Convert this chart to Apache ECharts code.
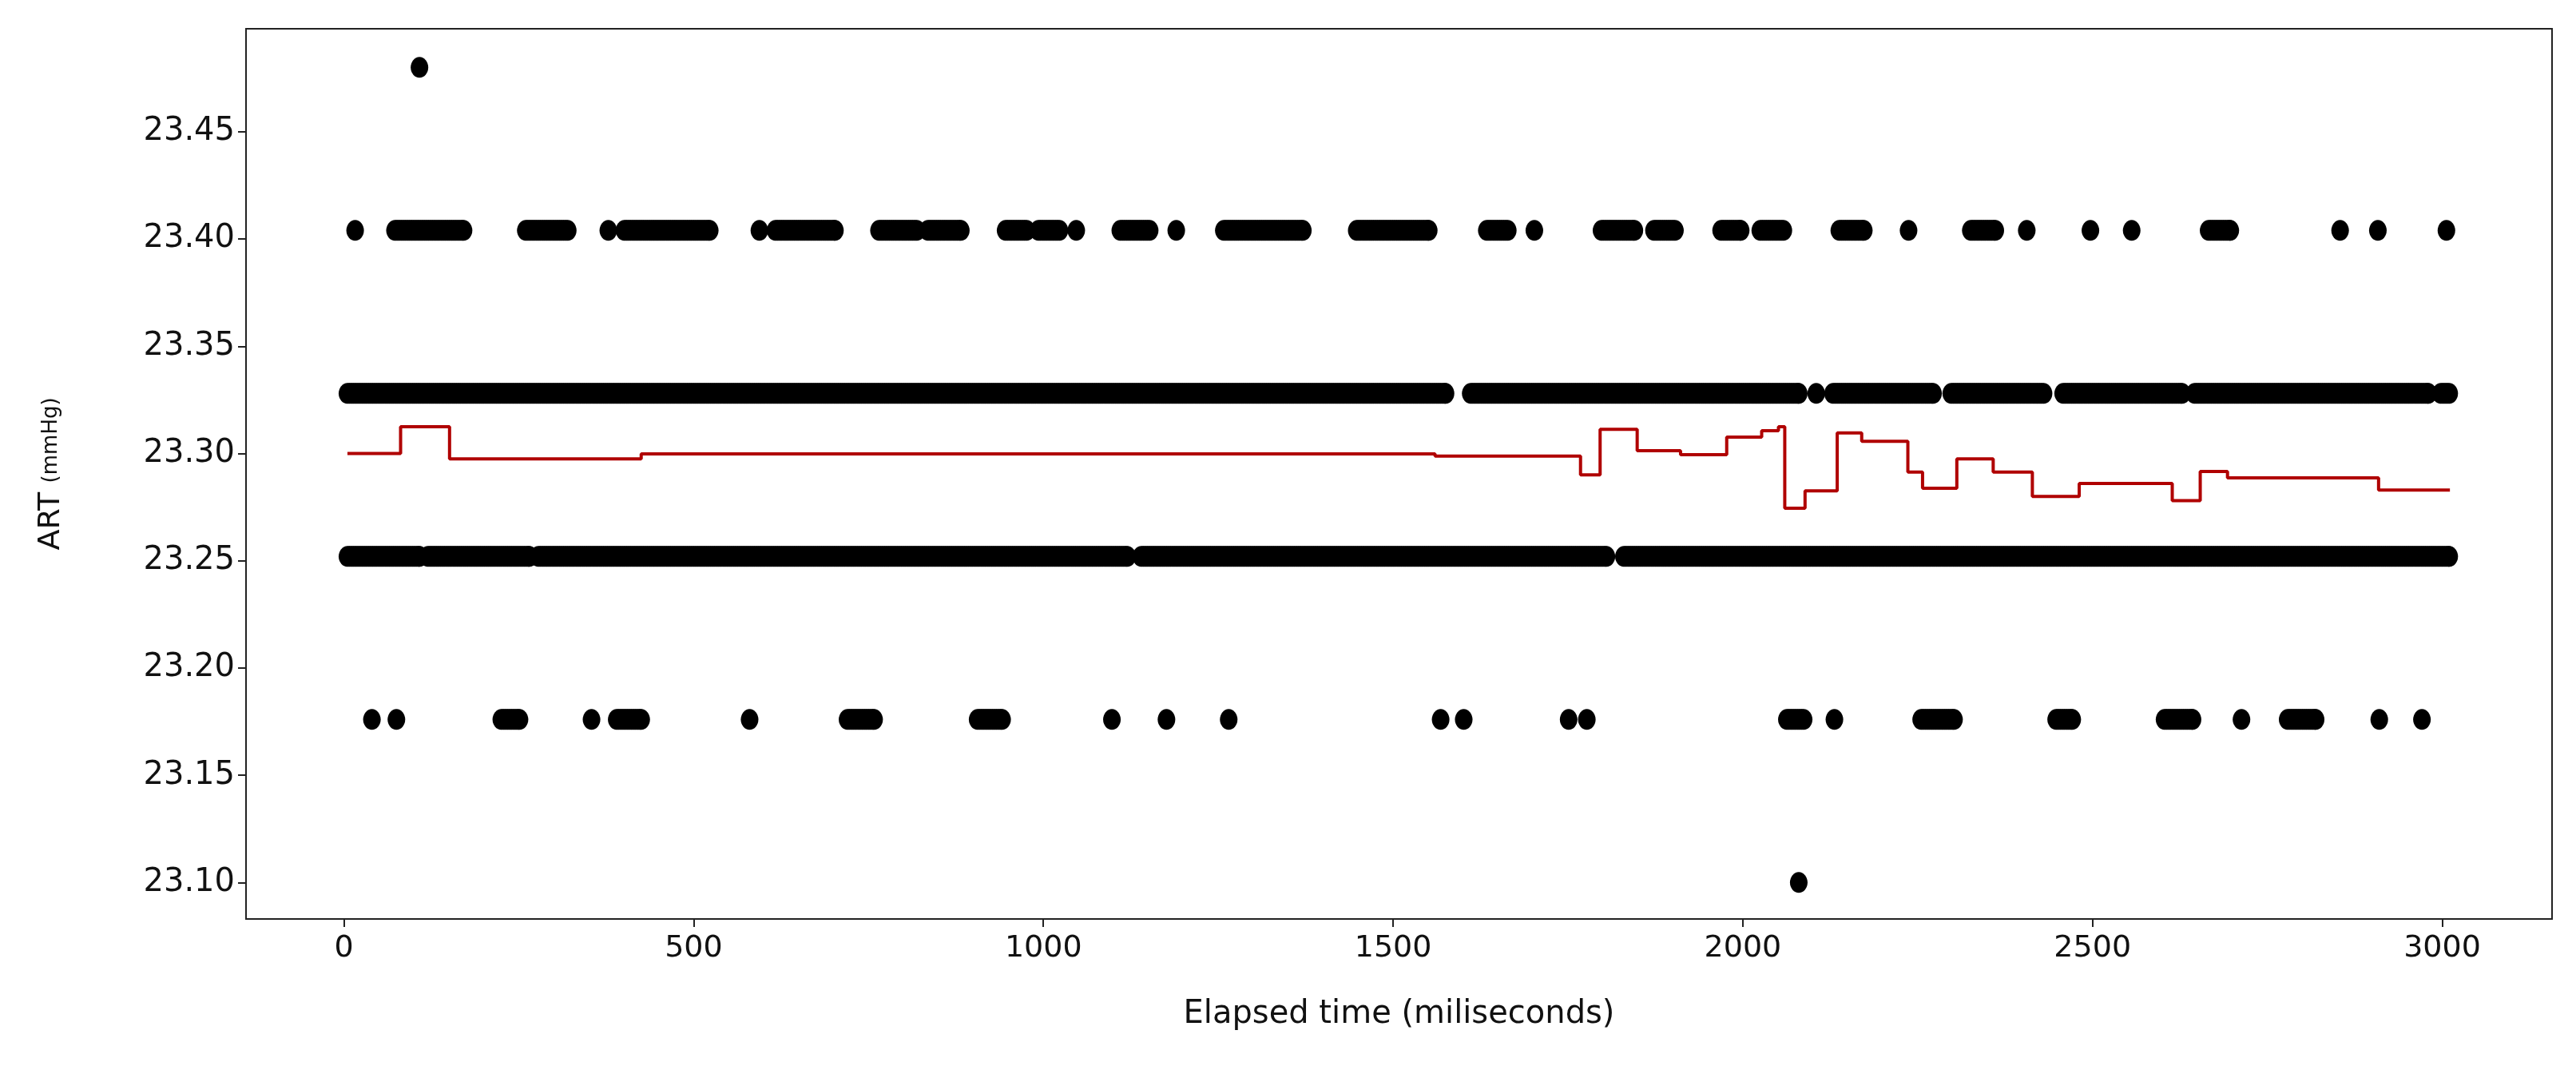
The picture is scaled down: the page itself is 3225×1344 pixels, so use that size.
<!DOCTYPE html>
<html><head><meta charset="utf-8">
<script src="https://cdn.jsdelivr.net/npm/echarts@6/dist/echarts.min.js"></script>
<style>html,body{margin:0;padding:0;background:#fff}#c{width:3225px;height:1344px}</style>
</head><body><div id="c"></div>
<script>
// Discrete ART levels (mmHg)
const levels = [23.100, 23.176, 23.252, 23.328, 23.404, 23.480];
// Runs of samples [startMs, endMs] for each level
const runs23480 = [[108,108]];
const runs23404 = [[16,16],[73,171],[260,320],[378,378],[401,523],[594,594],[617,702],[765,819],[835,882],[946,976],[993,1023],[1047,1047],[1110,1152],[1190,1190],[1258,1371],[1448,1551],[1634,1664],[1702,1702],[1798,1845],[1873,1903],[1969,1997],[2025,2058],[2138,2173],[2237,2237],[2326,2361],[2406,2406],[2497,2497],[2556,2556],[2666,2697],[2854,2854],[2908,2908],[3006,3006]];
const runs23328 = [[5,1575],[1611,2080],[2105,2105],[2129,2272],[2298,2430],[2458,2628],[2646,2980],[2998,3010]];
const runs23252 = [[5,108],[120,265],[278,1120],[1140,1805],[1830,3010]];
const runs23176 = [[40,40],[75,75],[225,251],[354,354],[390,425],[580,580],[720,758],[906,941],[1098,1098],[1176,1176],[1265,1265],[1568,1568],[1601,1601],[1751,1751],[1777,1777],[2063,2087],[2131,2131],[2255,2302],[2448,2471],[2603,2643],[2713,2713],[2779,2819],[2910,2910],[2971,2971]];
const runs23100 = [[2080,2080]];
// Running mean (step line): [timeMs, value]
const meanTimes  = [5,81,151,425,1560,1768,1796,1849,1911,1977,2027,2051,2060,2089,2135,2170,2236,2257,2306,2358,2414,2481,2614,2654,2693,2909,3011];
const meanValues = [23.300,23.3125,23.2975,23.2998,23.2988,23.290,23.3113,23.3013,23.2994,23.3076,23.3106,23.3125,23.2745,23.2826,23.3096,23.3057,23.2913,23.2838,23.2975,23.2913,23.280,23.286,23.278,23.2916,23.2886,23.283,23.283];
const xTicks = [0,500,1000,1500,2000,2500,3000];
const yTicks = [23.10,23.15,23.20,23.25,23.30,23.35,23.40,23.45];

const sample = 3;
function expand(rs, lvl){const o=[];rs.forEach(([a,b])=>{for(let t=a;t<=b;t+=sample)o.push([t,lvl]);if((b-a)%sample)o.push([b,lvl]);});return o;}
const pts = [].concat(expand(runs23100,levels[0]),expand(runs23176,levels[1]),expand(runs23252,levels[2]),expand(runs23328,levels[3]),expand(runs23404,levels[4]),expand(runs23480,levels[5]));
const meanData = meanTimes.map((t,i)=>[t,meanValues[i]]);

const font = 'DejaVu Sans';
const chart = echarts.init(document.getElementById('c'));
chart.setOption({
  animation:false,
  grid:{left:308,right:30,top:36,bottom:194,show:true,borderColor:'#222',borderWidth:2,backgroundColor:'#fff'},
  xAxis:{type:'value',min:-140,max:3157,splitLine:{show:false},axisLine:{show:false,onZero:false},
    axisTick:{show:true,length:10,lineStyle:{color:'#222',width:2},customValues:xTicks},
    axisLabel:{customValues:xTicks,fontFamily:font,fontSize:38,color:'#111',margin:18,formatter:v=>String(v)},
    name:'Elapsed time (miliseconds)',nameLocation:'middle',nameGap:100,nameTextStyle:{fontFamily:font,fontSize:40,color:'#111'}},
  yAxis:{type:'value',min:23.083,max:23.498,splitLine:{show:false},axisLine:{show:false,onZero:false},
    axisTick:{show:true,length:10,lineStyle:{color:'#222',width:2},customValues:yTicks},
    axisLabel:{customValues:yTicks,fontFamily:font,fontSize:40,color:'#111',margin:14,formatter:v=>v.toFixed(2)},
    name:'{a|ART} {b|(mmHg)}',nameLocation:'middle',nameGap:225,nameRotate:90,
    nameTextStyle:{rich:{a:{fontFamily:font,fontSize:38,color:'#111',padding:[0,8,0,0]},b:{fontFamily:font,fontSize:26,color:'#111'}}}},
  series:[
    {type:'scatter',data:pts,symbol:'circle',symbolSize:[22,26],itemStyle:{color:'#000',opacity:1},z:2},
    {type:'line',data:meanData,step:'end',showSymbol:false,lineStyle:{color:'#b00000',width:4},z:3}
  ]
});
</script></body></html>
